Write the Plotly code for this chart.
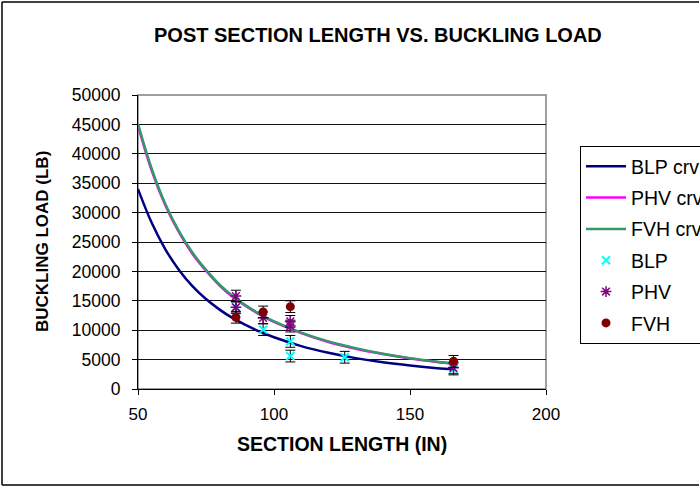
import plotly.graph_objects as go

# ---- data ----
crv_x = [50, 55, 60, 65, 70, 75, 80, 85, 90, 95, 100, 110, 120, 130, 140, 150, 160, 166]
blp_crv = [34000, 28300, 23800, 20300, 17500, 15300, 13500, 12000, 10800, 9700, 8800,
           7300, 6150, 5250, 4550, 4000, 3550, 3350]
phv_crv = [44800, 37200, 31300, 26700, 23000, 20100, 17600, 15600, 14000, 12600, 11400,
           9500, 8000, 6850, 5950, 5200, 4600, 4300]
fvh_crv = [45100, 37500, 31500, 26900, 23200, 20250, 17750, 15750, 14100, 12700, 11500,
           9600, 8100, 6950, 6000, 5250, 4650, 4350]

blp_x = [86, 96, 106, 106, 126, 166]
blp_y = [13900, 10100, 8100, 5600, 5400, 3400]
phv_x = [86, 86, 96, 106, 106, 166]
phv_y = [15800, 13900, 12100, 11500, 10700, 3600]
fvh_x = [86, 96, 106, 166]
fvh_y = [12200, 13100, 14000, 4700]
err_val = 1000

x_ticks = [50, 100, 150, 200]
y_ticks = list(range(0, 50001, 5000))

FONT = "Liberation Sans, Arial, sans-serif"

fig = go.Figure()

lines = [("BLP crv", blp_crv, "#000080", 1),
         ("PHV crv", phv_crv, "#FF00FF", 2),
         ("FVH crv", fvh_crv, "#339966", 3)]
for name, ys, col, rank in lines:
    fig.add_trace(go.Scatter(x=crv_x, y=ys, mode="lines", name=name,
                             line=dict(color=col, width=2.5, shape="spline"),
                             legendgroup=name, legendrank=rank))

eb = dict(type="constant", value=err_val, color="black", thickness=1, width=5)
fig.add_trace(go.Scatter(x=blp_x, y=blp_y, mode="markers", name="BLP",
                         marker=dict(symbol="x-thin", size=8, color="#00FFFF",
                                     line=dict(color="#00FFFF", width=2)),
                         error_y=eb, legendgroup="BLP", legendrank=4))
fig.add_trace(go.Scatter(x=phv_x, y=phv_y, mode="markers", name="PHV",
                         marker=dict(symbol="asterisk-open", size=9, color="#800080",
                                     line=dict(color="#800080", width=1.5)),
                         error_y=eb, legendgroup="PHV", legendrank=5))
fig.add_trace(go.Scatter(x=fvh_x, y=fvh_y, mode="markers", name="FVH",
                         marker=dict(symbol="circle", size=9, color="#800000"),
                         error_y=eb, legendgroup="FVH", legendrank=6))

L, R, T, B = 138, 154, 95, 98
W, H = 700, 487
pw, ph = W - L - R, H - T - B
def px(xp):
    return (xp - L) / pw
def py(yp):
    return (H - B - yp) / ph

frame = dict(color="black", width=1.5)
fig.update_layout(
    width=W, height=H,
    margin=dict(l=L, r=R, t=T, b=B, autoexpand=False),
    paper_bgcolor="white", plot_bgcolor="white",
    font=dict(family=FONT, color="black", size=17),
    showlegend=True,
    legend=dict(x=px(580), y=py(146), xanchor="left", yanchor="top",
                bgcolor="white", bordercolor="black", borderwidth=1,
                font=dict(size=19.5, family=FONT), tracegroupgap=3,
                itemwidth=40),
    xaxis=dict(range=[50, 200], tickvals=x_ticks, ticktext=[str(v) for v in x_ticks],
               showgrid=False, zeroline=False, showline=True, linecolor="black",
               linewidth=1, ticks="outside", ticklen=5, tickcolor="black",
               tickfont=dict(size=17), ticklabelstandoff=5, automargin=False),
    yaxis=dict(range=[0, 50000], tickvals=y_ticks, ticktext=[str(v) for v in y_ticks],
               showgrid=True, gridcolor="#111111", gridwidth=1, zeroline=False,
               showline=True, linecolor="black", linewidth=1, ticks="outside",
               ticklen=5, tickcolor="black", tickfont=dict(size=17.5),
               ticklabelstandoff=8, automargin=False),
    shapes=[
        dict(type="rect", xref="paper", yref="paper", x0=0, x1=1, y0=0, y1=1,
             line=dict(color="#808080", width=1.5), layer="below"),
        dict(type="line", xref="paper", yref="paper", x0=px(2), x1=px(2),
             y0=py(485), y1=py(2), line=frame),
        dict(type="line", xref="paper", yref="paper", x0=px(2), x1=px(699),
             y0=py(2), y1=py(2), line=frame),
        dict(type="line", xref="paper", yref="paper", x0=px(2), x1=px(699),
             y0=py(485), y1=py(485), line=frame),
    ],
    annotations=[
        dict(text="<b>POST SECTION LENGTH VS. BUCKLING LOAD</b>", xref="paper",
             yref="paper", x=px(378), y=py(35), showarrow=False,
             xanchor="center", yanchor="middle", font=dict(size=20)),
        dict(text="<b>SECTION LENGTH (IN)</b>", xref="paper", yref="paper",
             x=px(342), y=py(444), showarrow=False, xanchor="center",
             yanchor="middle", font=dict(size=19.5)),
        dict(text="<b>BUCKLING LOAD (LB)</b>", xref="paper", yref="paper",
             x=px(42), y=py(242), showarrow=False, xanchor="center",
             yanchor="middle", textangle=-90, font=dict(size=17)),
    ],
)

fig.write_html("out.html", config={"displayModeBar": False},
               post_script="document.body.style.margin='0';document.body.style.overflow='hidden';")
